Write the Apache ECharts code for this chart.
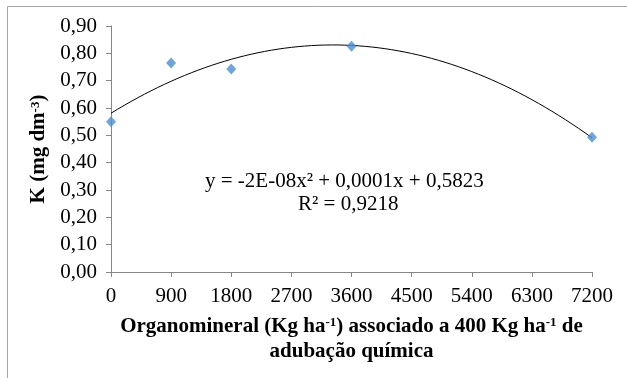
<!DOCTYPE html>
<html>
<head>
<meta charset="utf-8">
<script src="https://cdn.jsdelivr.net/npm/echarts@6/dist/echarts.min.js"></script>
<style>
html, body { margin: 0; padding: 0; background: #fff; }
#chart { width: 627px; height: 378px; }
</style>
</head>
<body>
<div id="chart"></div>
<script>
"use strict"

// organomineral dose (Kg/ha) and measured K (mg/dm3)
const doses = [0, 900, 1800, 3600, 7200];
const kValues = [0.55, 0.765, 0.743, 0.826, 0.493];
const xTicks = [0, 900, 1800, 2700, 3600, 4500, 5400, 6300, 7200];
const yTicks = [0, 0.1, 0.2, 0.3, 0.4, 0.5, 0.6, 0.7, 0.8, 0.9];
const eqText = "y = -2E-08x² + 0,0001x + 0,5823";
const r2Text = "R² = 0,9218";

// least squares quadratic, as the spreadsheet trend line does
function fitQuad(xs, ys)
{
    let s = [0, 0, 0, 0, 0], t = [0, 0, 0];
    for (let i = 0; i < xs.length; ++i)
    {
        let p = 1;
        for (let k = 0; k < 5; ++k) { s[k] += p; if (k < 3) t[k] += p * ys[i]; p *= xs[i]; }
    }
    const m = [[s[0], s[1], s[2], t[0]], [s[1], s[2], s[3], t[1]], [s[2], s[3], s[4], t[2]]];
    for (let c = 0; c < 3; ++c)
        for (let r = 0; r < 3; ++r)
        {
            if (r === c) continue;
            const f = m[r][c] / m[c][c];
            for (let k = c; k < 4; ++k) m[r][k] -= f * m[c][k];
        }
    return [m[0][3] / m[0][0], m[1][3] / m[1][1], m[2][3] / m[2][2]];
}

const coef = fitQuad(doses, kValues);
const trend = [];
for (let x = 0; x <= 7200; x += 100)
    trend.push([x, coef[0] + coef[1] * x + coef[2] * x * x]);

const font = "'Liberation Serif', 'Times New Roman', serif";
const axisGray = "#868686";
const fs = 21;

const myChart = echarts.init(document.getElementById("chart"), null, { renderer: "canvas" });
const option = {
    animation: false,
    textStyle: { fontFamily: font },
    grid: { left: 111, right: 35, top: 26, bottom: 106, containLabel: false },
    xAxis: {
        type: "value",
        min: xTicks[0], max: xTicks[xTicks.length - 1], interval: xTicks[1] - xTicks[0],
        splitLine: { show: false },
        axisLine: { lineStyle: { color: axisGray } },
        axisTick: { length: 5, lineStyle: { color: axisGray } },
        axisLabel: { color: "#000", fontSize: fs, fontFamily: font, margin: 14, formatter: v => String(v) },
        name: "{b|Organomineral (Kg ha}{s|-1}{b|) associado a 400 Kg ha}{s|-1}{b| de}\n{b|adubação química}",
        nameLocation: "middle",
        nameGap: 42,
        nameTextStyle: {
            verticalAlign: "top",
            align: "center",
            lineHeight: 25,
            rich: {
                b: { fontSize: fs, fontWeight: "bold", fontFamily: font, color: "#000", lineHeight: 25 },
                s: { fontSize: 13, fontWeight: "bold", fontFamily: font, color: "#000", lineHeight: 25, padding: [0, 0, 7, 0] }
            }
        }
    },
    yAxis: {
        type: "value",
        min: yTicks[0], max: yTicks[yTicks.length - 1], interval: 0.1,
        splitLine: { show: false },
        axisLine: { show: true, lineStyle: { color: axisGray } },
        axisTick: { show: true, length: 5, lineStyle: { color: axisGray } },
        axisLabel: {
            color: "#000", fontSize: fs, fontFamily: font, margin: 14,
            formatter: v => v.toFixed(2).replace(".", ",")
        },
        name: "{b|K (mg dm}{s|-3}{b|)}",
        nameLocation: "middle",
        nameGap: 60,
        nameTextStyle: {
            rich: {
                b: { fontSize: fs, fontWeight: "bold", fontFamily: font, color: "#000" },
                s: { fontSize: 13, fontWeight: "bold", fontFamily: font, color: "#000", padding: [0, 0, 7, 0] }
            }
        }
    },
    graphic: [
        { type: "rect", shape: { x: 7.5, y: 6.5, width: 640, height: 400 }, style: { fill: "none", stroke: "#a6a6a6", lineWidth: 1 }, silent: true },
        { type: "text", left: 205, top: 171, style: { text: eqText, font: fs + "px " + font, fill: "#000" } },
        { type: "text", left: 298, top: 194, style: { text: r2Text, font: fs + "px " + font, fill: "#000" } }
    ],
    series: [
        {
            type: "line",
            data: trend,
            showSymbol: false,
            lineStyle: { color: "#000", width: 1 },
            z: 2
        },
        {
            type: "scatter",
            data: doses.map((d, i) => [d, kValues[i]]),
            symbol: "diamond",
            symbolSize: [10, 11],
            itemStyle: { color: "#4a8fd8" },
            z: 3
        }
    ]
};
myChart.setOption(option);
</script>
</body>
</html>
